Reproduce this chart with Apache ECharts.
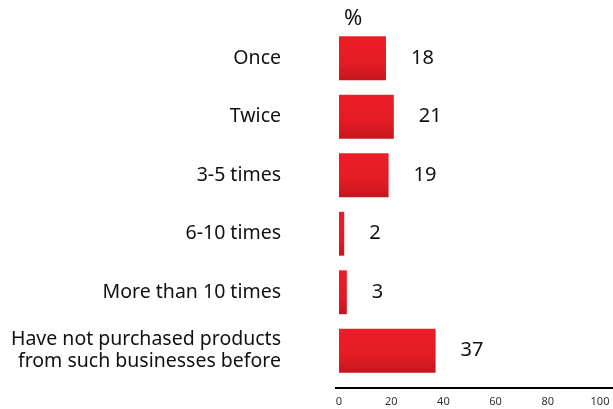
<!DOCTYPE html>
<html>
<head>
<meta charset="utf-8">
<script src="https://cdn.jsdelivr.net/npm/echarts@6/dist/echarts.min.js"></script>
<style>
  html, body { margin: 0; padding: 0; background: #fff; }
  #chart { width: 613px; height: 409px; }
</style>
</head>
<body>
<div id="chart"></div>
<script>
// Purchase frequency, share of respondents (%)
const categories = [
  'Once',
  'Twice',
  '3-5 times',
  '6-10 times',
  'More than 10 times',
  'Have not purchased products\nfrom such businesses before'
];
const values = [18, 21, 19, 2, 3, 37];
const axisTicks = [0, 20, 40, 60, 80, 100];

const FONT = '"Noto Sans", "Open Sans", sans-serif';
const chart = echarts.init(document.getElementById('chart'));

chart.setOption({
  animation: false,
  title: {
    text: '%',
    left: 339,
    top: 3,
    textStyle: { fontFamily: FONT, fontSize: 22, fontWeight: 'normal', color: '#111' }
  },
  grid: { left: 339, right: 13, top: 29, bottom: 29 },
  xAxis: {
    type: 'value',
    min: axisTicks[0],
    max: axisTicks[axisTicks.length - 1],
    interval: axisTicks[1] - axisTicks[0],
    offset: 8,
    axisLine: { show: false },
    axisTick: { show: false },
    splitLine: { show: false },
    axisLabel: { fontFamily: FONT, fontSize: 11, color: '#333', margin: 8 }
  },
  yAxis: {
    type: 'category',
    data: categories,
    inverse: true,
    axisLine: { show: false },
    axisTick: { show: false },
    axisLabel: {
      fontFamily: FONT, fontSize: 19.5, color: '#111', margin: 58,
      lineHeight: 22, align: 'right'
    }
  },
  series: [{
    type: 'bar',
    data: values,
    barCategoryGap: '25%',
    itemStyle: {
      color: new echarts.graphic.LinearGradient(0, 0, 0, 1, [
        { offset: 0, color: '#ee1d27' },
        { offset: 0.6, color: '#e31c24' },
        { offset: 1, color: '#c5161d' }
      ])
    },
    label: {
      show: true,
      position: 'right',
      distance: 25,
      fontFamily: FONT,
      fontSize: 20,
      color: '#111'
    }
  }],
  graphic: [{
    type: 'line',
    shape: { x1: 335, y1: 388, x2: 613, y2: 388 },
    style: { stroke: '#000', lineWidth: 2 }
  }]
});
</script>
</body>
</html>
